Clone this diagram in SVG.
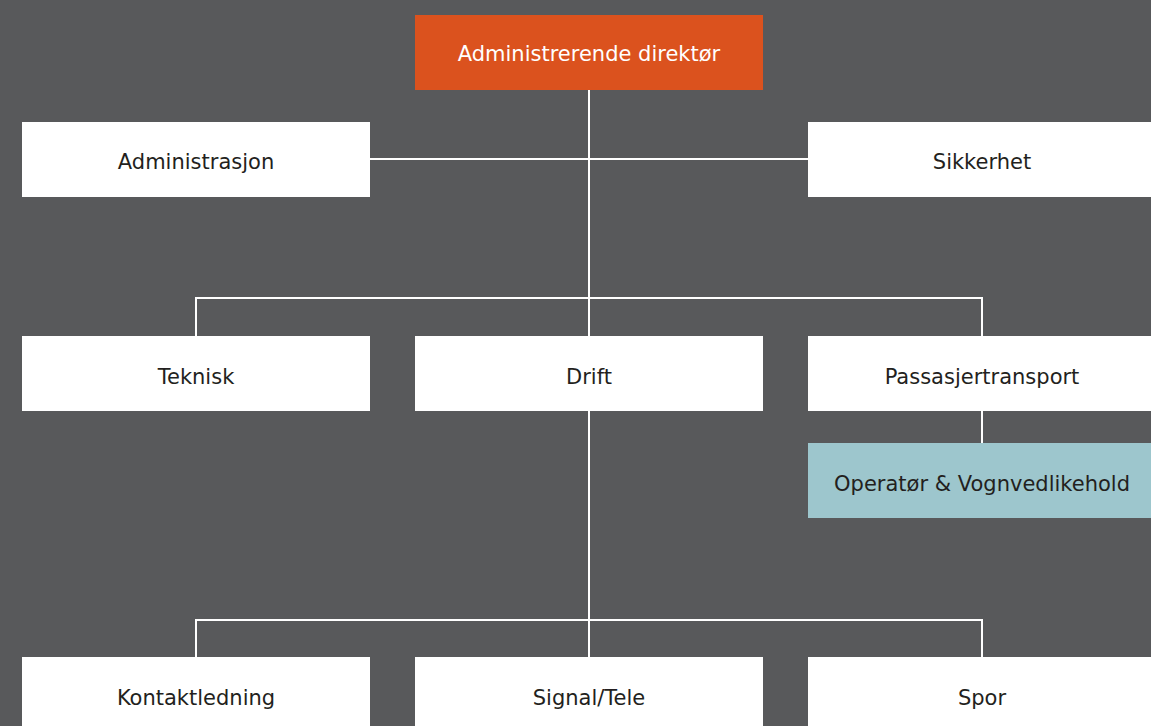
<svg xmlns="http://www.w3.org/2000/svg" width="1151" height="726" viewBox="0 0 1151 726">
<style>
.box{fill:#ffffff}
.top{fill:#db521e}
.sub{fill:#9dc6cd}
.lbl{font-family:"DejaVu Sans",sans-serif;font-size:21px;fill:#231f20;text-anchor:middle}
.wl{fill:#ffffff}
.con{stroke:#ffffff;stroke-width:2;fill:none}
</style>
<rect x="0" y="0" width="1151" height="726" fill="#58595b"/>
<g id="connectors">
<line class="con" x1="589" y1="90" x2="589" y2="336"/>
<line class="con" x1="370" y1="159" x2="808" y2="159"/>
<polyline class="con" points="196,336 196,298 982,298 982,336"/>
<line class="con" x1="982" y1="411" x2="982" y2="443"/>
<line class="con" x1="589" y1="411" x2="589" y2="657"/>
<polyline class="con" points="196,657 196,620 982,620 982,657"/>
</g>
<g id="n-adm-dir"><rect class="top" x="415" y="15" width="348" height="75"/><text class="lbl wl" x="589" y="61">Administrerende direktør</text></g>
<g id="n-administrasjon"><rect class="box" x="22" y="122" width="348" height="75"/><text class="lbl" x="196" y="169">Administrasjon</text></g>
<g id="n-sikkerhet"><rect class="box" x="808" y="122" width="348" height="75"/><text class="lbl" x="982" y="169">Sikkerhet</text></g>
<g id="n-teknisk"><rect class="box" x="22" y="336" width="348" height="75"/><text class="lbl" x="196" y="384">Teknisk</text></g>
<g id="n-drift"><rect class="box" x="415" y="336" width="348" height="75"/><text class="lbl" x="589" y="384">Drift</text></g>
<g id="n-passasjer"><rect class="box" x="808" y="336" width="348" height="75"/><text class="lbl" x="982" y="384">Passasjertransport</text></g>
<g id="n-operator"><rect class="sub" x="808" y="443" width="348" height="75"/><text class="lbl" x="982" y="491">Operatør &amp; Vognvedlikehold</text></g>
<g id="n-kontakt"><rect class="box" x="22" y="657" width="348" height="75"/><text class="lbl" x="196" y="705">Kontaktledning</text></g>
<g id="n-signal"><rect class="box" x="415" y="657" width="348" height="75"/><text class="lbl" x="589" y="705">Signal/Tele</text></g>
<g id="n-spor"><rect class="box" x="808" y="657" width="348" height="75"/><text class="lbl" x="982" y="705">Spor</text></g>
</svg>
